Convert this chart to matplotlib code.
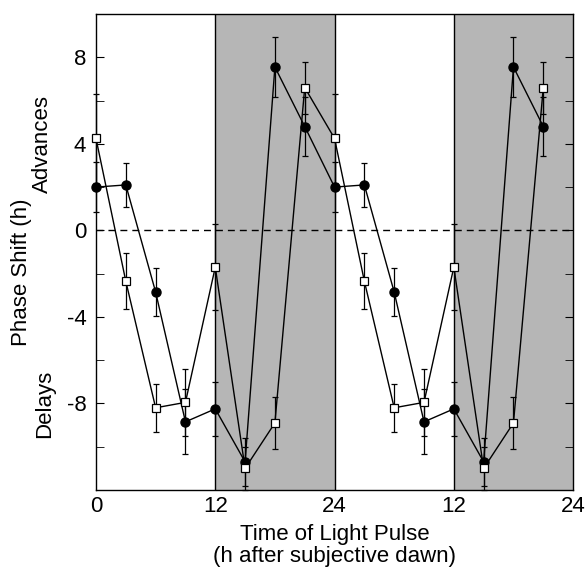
import matplotlib.pyplot as plt

plt.rcParams['font.family'] = ['Liberation Sans', 'DejaVu Sans']
plt.rcParams['axes.unicode_minus'] = False  # plain hyphen in "-4", "-8"

# light pulse times (double plotted, 0-48 h)
time_h = [0, 3, 6, 9, 12, 15, 18, 21, 24, 27, 30, 33, 36, 39, 42, 45]

# filled circles
shift_a = [2.0, 2.1, -2.85, -8.85, -8.25, -10.7, 7.55, 4.8,
           2.0, 2.1, -2.85, -8.85, -8.25, -10.7, 7.55, 4.8]
err_a = [1.15, 1.0, 1.1, 1.5, 1.25, 1.1, 1.4, 1.35,
         1.15, 1.0, 1.1, 1.5, 1.25, 1.1, 1.4, 1.35]

# open squares
shift_b = [4.25, -2.35, -8.2, -7.95, -1.7, -11.0, -8.9, 6.6,
           4.25, -2.35, -8.2, -7.95, -1.7, -11.0, -8.9, 6.6]
err_b = [2.05, 1.3, 1.1, 1.55, 2.0, 1.0, 1.2, 1.2,
         2.05, 1.3, 1.1, 1.55, 2.0, 1.0, 1.2, 1.2]

dark_spans = [(12, 24), (36, 48)]
xtick_pos = [0, 12, 24, 36, 48]
xtick_lab = ['0', '12', '24', '12', '24']

fig = plt.figure(figsize=(5.86, 5.67), dpi=100)
ax = fig.add_axes([0.1638, 0.1358, 0.8142, 0.8395])

for a, b in dark_spans:
    ax.axvspan(a, b, color='#b6b6b6', lw=0, zorder=0)
for xv in [12, 24, 36]:
    ax.axvline(xv, color='k', lw=1.0, zorder=1)
ax.axhline(0, color='k', lw=1.0, ls=(0, (5, 3.6)), zorder=1)

ax.errorbar(time_h, shift_a, yerr=err_a, fmt='-o', color='k', ms=6.5,
            mfc='k', mec='k', lw=1.0, elinewidth=0.9, capsize=2.5,
            capthick=0.9, zorder=3, clip_on=False)
ax.errorbar(time_h, shift_b, yerr=err_b, fmt='-s', color='k', ms=6.0,
            mfc='white', mec='k', mew=0.9, lw=1.0, elinewidth=0.9,
            capsize=2.5, capthick=0.9, zorder=4, clip_on=False)

ax.set_xlim(0, 48)
ax.set_ylim(-12, 10)
ax.set_xticks(xtick_pos)
ax.set_xticklabels(xtick_lab)
ax.tick_params(axis='x', length=0, labelsize=16, pad=4)
ax.set_yticks([8, 4, 0, -4, -8])
ax.set_yticks([6, 2, -2, -6, -10], minor=True)
ax.tick_params(axis='y', which='both', direction='in', length=6,
               right=True, labelsize=16, pad=7)
for s in ax.spines.values():
    s.set_linewidth(1.0)

ax.set_xlabel('Time of Light Pulse\n(h after subjective dawn)', fontsize=16,
              linespacing=1.1, labelpad=5)
fig.text(0.036, 0.52, 'Phase Shift (h)', rotation=90, fontsize=16,
         ha='center', va='center')
fig.text(0.073, 0.746, 'Advances', rotation=90, fontsize=16,
         ha='center', va='center')
fig.text(0.076, 0.2875, 'Delays', rotation=90, fontsize=16,
         ha='center', va='center')

fig.savefig('out.png', dpi=100)
